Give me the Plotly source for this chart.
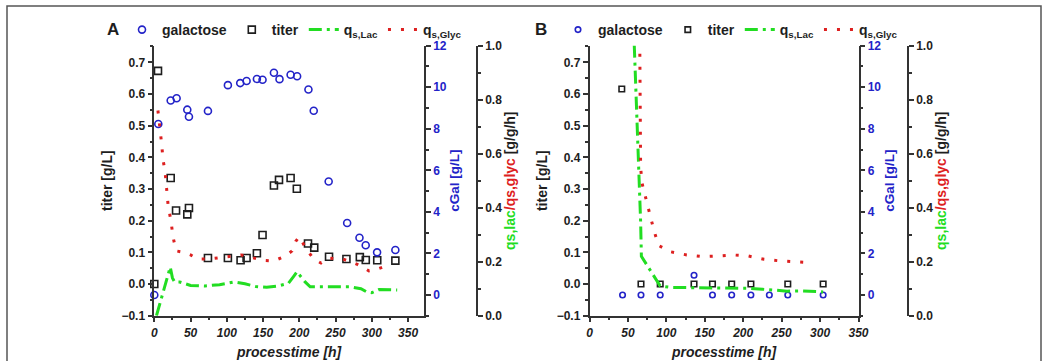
import plotly.graph_objects as go

# ---------------- data: panel A ----------------
a_gal_time = [0, 5.5, 22.6, 30.8, 45.5, 47.8, 74, 101.5, 118.5, 127.3, 141.5, 149.3, 165, 172.7,
              188, 197, 212.6, 219.9, 240.5, 266, 283, 291.6, 307.3, 332.5]
a_gal = [0.0, 8.23, 9.36, 9.47, 8.92, 8.58, 8.86, 10.1, 10.2, 10.3, 10.4, 10.36, 10.7, 10.39,
         10.6, 10.53, 9.89, 8.87, 5.46, 3.46, 2.75, 2.39, 2.05, 2.16]
a_titer_time = [0, 5.1, 22.6, 30, 45.5, 47.8, 74, 101.5, 119, 127.3, 141.5, 149.3, 165, 172,
                188, 196.6, 212, 220.6, 241, 265, 283.5, 291.7, 307.5, 332.5]
a_titer = [0.0, 0.673, 0.335, 0.232, 0.22, 0.24, 0.082, 0.082, 0.075, 0.082, 0.097, 0.155, 0.311, 0.329,
           0.335, 0.301, 0.128, 0.115, 0.086, 0.079, 0.085, 0.076, 0.075, 0.074]
a_lac_time = [3, 8, 13, 18, 22, 25, 28, 35, 50, 70, 90, 110, 125, 140, 155, 170, 185, 192, 197,
              202, 208, 215, 230, 250, 270, 285, 293, 300, 310, 335]
a_lac = [0.0, 0.05, 0.1, 0.15, 0.18, 0.14, 0.125, 0.125, 0.112, 0.11, 0.115, 0.125, 0.118, 0.108,
         0.105, 0.11, 0.12, 0.145, 0.163, 0.145, 0.125, 0.107, 0.107, 0.108, 0.107, 0.1, 0.088,
         0.085, 0.097, 0.095]
a_glyc_time = [5, 8, 10, 12, 15, 17, 19, 23, 26, 30, 40, 50, 60, 75, 90, 105, 120, 135, 150, 165,
               180, 190, 195, 200, 205, 210, 220, 230, 240, 260, 280, 290, 296, 305, 320]
a_glyc = [0.76, 0.70, 0.64, 0.58, 0.53, 0.47, 0.41, 0.35, 0.29, 0.24, 0.235, 0.225, 0.21, 0.21,
          0.215, 0.22, 0.225, 0.215, 0.205, 0.203, 0.22, 0.24, 0.275, 0.293, 0.27, 0.245, 0.21,
          0.195, 0.213, 0.21, 0.19, 0.175, 0.166, 0.17, 0.185]

# ---------------- data: panel B ----------------
b_gal_time = [43, 67, 92, 136, 160, 185, 210, 234, 258, 304]
b_gal = [0.0, 0.0, 0.0, 0.95, 0.0, 0.0, 0.0, 0.0, 0.0, 0.0]
b_titer_time = [42, 67, 92, 136, 160, 185, 210, 258, 304]
b_titer = [0.616, 0.0, 0.0, 0.0, 0.0, 0.0, 0.0, 0.0, 0.0]
b_lac_time = [57, 59, 61, 63, 65, 66.5, 67.5, 92, 105, 125, 140, 160, 175, 210, 225, 257, 273, 291, 304]
b_lac = [1.1, 0.95, 0.8, 0.65, 0.5, 0.35, 0.22, 0.11, 0.105, 0.104, 0.104, 0.104, 0.104, 0.101,
         0.098, 0.091, 0.092, 0.09, 0.088]
b_glyc_time = [65.5, 66, 66.5, 68.4, 74, 79, 84, 90, 105, 126.5, 146, 166, 187, 207, 227, 247.7, 267, 289]
b_glyc = [0.97, 0.75, 0.55, 0.49, 0.428, 0.373, 0.314, 0.26, 0.237, 0.225, 0.219, 0.221, 0.225,
          0.221, 0.209, 0.203, 0.2, 0.196]

x_ticks = [0, 50, 100, 150, 200, 250, 300, 350]

BLUE = "#2323c8"
BLACK = "#1e1e1e"
GREEN = "#22dd22"
RED = "#dd2020"
AX = "#333333"
FONT = "Liberation Sans"

W, H = 1048, 361
def px_x(p):
    return p / W
def px_y(p):
    return 1 - p / H

ydom = [px_y(315.7), px_y(45.7)]
xdomA = [px_x(154.3), px_x(424)]
xdomB = [px_x(589.5), px_x(858.5)]

fig = go.Figure()

def add_panel(gt, g, tt, t, lt, l, ct, c, xa, ya_t, ya_g, ya_q, legend, msize):
    fig.add_trace(go.Scatter(x=gt, y=g, mode="markers", name="galactose", xaxis=xa, yaxis=ya_g,
                             marker=dict(symbol="circle-open", size=msize, color=BLUE, line=dict(width=1.6)),
                             cliponaxis=False, legend=legend))
    fig.add_trace(go.Scatter(x=tt, y=t, mode="markers", name="titer", xaxis=xa, yaxis=ya_t,
                             marker=dict(symbol="square-open", size=msize, color=BLACK, line=dict(width=1.6)),
                             cliponaxis=False, legend=legend))
    fig.add_trace(go.Scatter(x=lt, y=l, mode="lines", name="q<sub>s,Lac</sub>", xaxis=xa, yaxis=ya_q,
                             line=dict(color=GREEN, width=3, dash="13px,5px,3px,5px"), legend=legend))
    fig.add_trace(go.Scatter(x=ct, y=c, mode="lines", name="q<sub>s,Glyc</sub>", xaxis=xa, yaxis=ya_q,
                             line=dict(color=RED, width=3, dash="3px,10px"), legend=legend))

add_panel(a_gal_time, a_gal, a_titer_time, a_titer, a_lac_time, a_lac, a_glyc_time, a_glyc,
          "x", "y", "y2", "y3", "legend", 7)
add_panel(b_gal_time, b_gal, b_titer_time, b_titer, b_lac_time, b_lac, b_glyc_time, b_glyc,
          "x2", "y4", "y5", "y6", "legend2", 5.5)

tickfont = dict(family=FONT, size=12, color=BLACK, weight="bold")
xtickfont = dict(family=FONT, size=12, color=BLACK, weight="bold", style="italic")
titlefont = dict(family=FONT, size=14, color=BLACK, weight="bold")

def xaxis_main(dom, rng, anchor):
    return dict(domain=dom, range=rng, anchor=anchor, tickmode="array", tickvals=x_ticks,
                ticks="outside", ticklen=5, tickwidth=1.5, tickcolor=AX, automargin=False,
                showline=True, linecolor=AX, linewidth=1.5, showgrid=False, zeroline=False,
                tickfont=xtickfont,
                minor=dict(ticks="outside", ticklen=3, tickwidth=1.5, tickcolor=AX, dtick=25, tick0=0, showgrid=False),
                title=dict(text="processtime [h]", font=dict(family=FONT, size=14, color=BLACK,
                                                              weight="bold", style="italic"), standoff=8))

def xaxis_top(rng, over, anchor):
    return dict(overlaying=over, anchor=anchor, side="top", range=rng, tickmode="array", tickvals=x_ticks,
                ticks="inside", ticklen=5, tickwidth=1.5, tickcolor=AX, showticklabels=False, automargin=False,
                showline=True, linecolor=AX, linewidth=1.5, showgrid=False, zeroline=False,
                minor=dict(ticks="inside", ticklen=3, tickwidth=1.5, tickcolor=AX, dtick=25, tick0=0, showgrid=False))

def y_titer(dom, anchor):
    return dict(domain=dom, anchor=anchor, range=[-0.1, 0.7525], tick0=-0.1, dtick=0.1, tickformat=".1f",
                ticks="outside", ticklen=5, tickwidth=1.5, tickcolor=AX, automargin=False,
                showline=True, linecolor=AX, linewidth=1.5, showgrid=False, zeroline=False,
                tickfont=tickfont,
                minor=dict(ticks="outside", ticklen=3, tickwidth=1.5, tickcolor=AX, dtick=0.05, tick0=-0.1, showgrid=False),
                title=dict(text="titer [g/L]", font=titlefont, standoff=6))

def y_gal(over, anchor):
    return dict(overlaying=over, anchor=anchor, side="right", range=[-1, 12], tick0=0, dtick=2,
                ticks="outside", ticklen=5, tickwidth=1.5, tickcolor=AX, automargin=False,
                showline=True, linecolor=AX, linewidth=1.5, showgrid=False, zeroline=False,
                tickfont=dict(family=FONT, size=12, color=BLUE, weight="bold"),
                minor=dict(ticks="outside", ticklen=3, tickwidth=1.5, tickcolor=AX, dtick=1, tick0=0, showgrid=False),
                title=dict(text="cGal [g/L]", font=dict(family=FONT, size=13.5, color=BLUE, weight="bold"), standoff=4))

QS_TITLE = ('<span style="color:%s">qs,lac</span><span style="color:%s">/qs,glyc</span> [g/g/h]' % (GREEN, RED))

def y_qs(over, pos):
    return dict(overlaying=over, anchor="free", position=pos, side="right", range=[0, 1.0], tick0=0, dtick=0.2,
                tickformat=".1f", ticks="outside", ticklen=5, tickwidth=1.5, tickcolor=AX, automargin=False,
                showline=True, linecolor=AX, linewidth=1.5, showgrid=False, zeroline=False,
                tickfont=tickfont,
                minor=dict(ticks="outside", ticklen=3, tickwidth=1.5, tickcolor=AX, dtick=0.1, tick0=0, showgrid=False),
                title=dict(text=QS_TITLE, font=titlefont, standoff=0))

legfont = dict(family=FONT, size=14, color=BLACK, weight="bold")

fig.update_layout(
    width=W, height=H, margin=dict(l=0, r=0, t=0, b=0, autoexpand=False),
    paper_bgcolor="white", plot_bgcolor="white",
    font=dict(family=FONT, color=BLACK),
    xaxis=xaxis_main(xdomA, [0, 372], "y"),
    xaxis3=xaxis_top([0, 372], "x", "y"),
    xaxis2=xaxis_main(xdomB, [0, 350], "y4"),
    xaxis4=xaxis_top([0, 350], "x2", "y4"),
    yaxis=y_titer(ydom, "x"),
    yaxis2=y_gal("y", "x"),
    yaxis3=y_qs("y", px_x(477)),
    yaxis4=y_titer(ydom, "x2"),
    yaxis5=y_gal("y4", "x2"),
    yaxis6=y_qs("y4", px_x(908)),
    legend=dict(orientation="h", x=px_x(122), xanchor="left", y=px_y(30), yanchor="middle",
                font=legfont, bgcolor="rgba(0,0,0,0)", borderwidth=0, itemwidth=30, tracegroupgap=0),
    legend2=dict(orientation="h", x=px_x(558), xanchor="left", y=px_y(30), yanchor="middle",
                 font=legfont, bgcolor="rgba(0,0,0,0)", borderwidth=0, itemwidth=30, tracegroupgap=0),
    showlegend=True,
    annotations=[
        dict(text="A", x=px_x(113), y=px_y(30), xref="paper", yref="paper", showarrow=False,
             xanchor="center", yanchor="middle",
             font=dict(family=FONT, size=17, color=BLACK, weight="bold")),
        dict(text="B", x=px_x(541), y=px_y(30), xref="paper", yref="paper", showarrow=False,
             xanchor="center", yanchor="middle",
             font=dict(family=FONT, size=17, color=BLACK, weight="bold")),
    ],
    shapes=[
        dict(type="rect", xref="paper", yref="paper", x0=px_x(7), x1=px_x(1041), y0=-0.1, y1=px_y(6),
             line=dict(color="#555555", width=1.5), fillcolor="rgba(0,0,0,0)", layer="below"),
    ],
)

fig.write_html("out.html")
